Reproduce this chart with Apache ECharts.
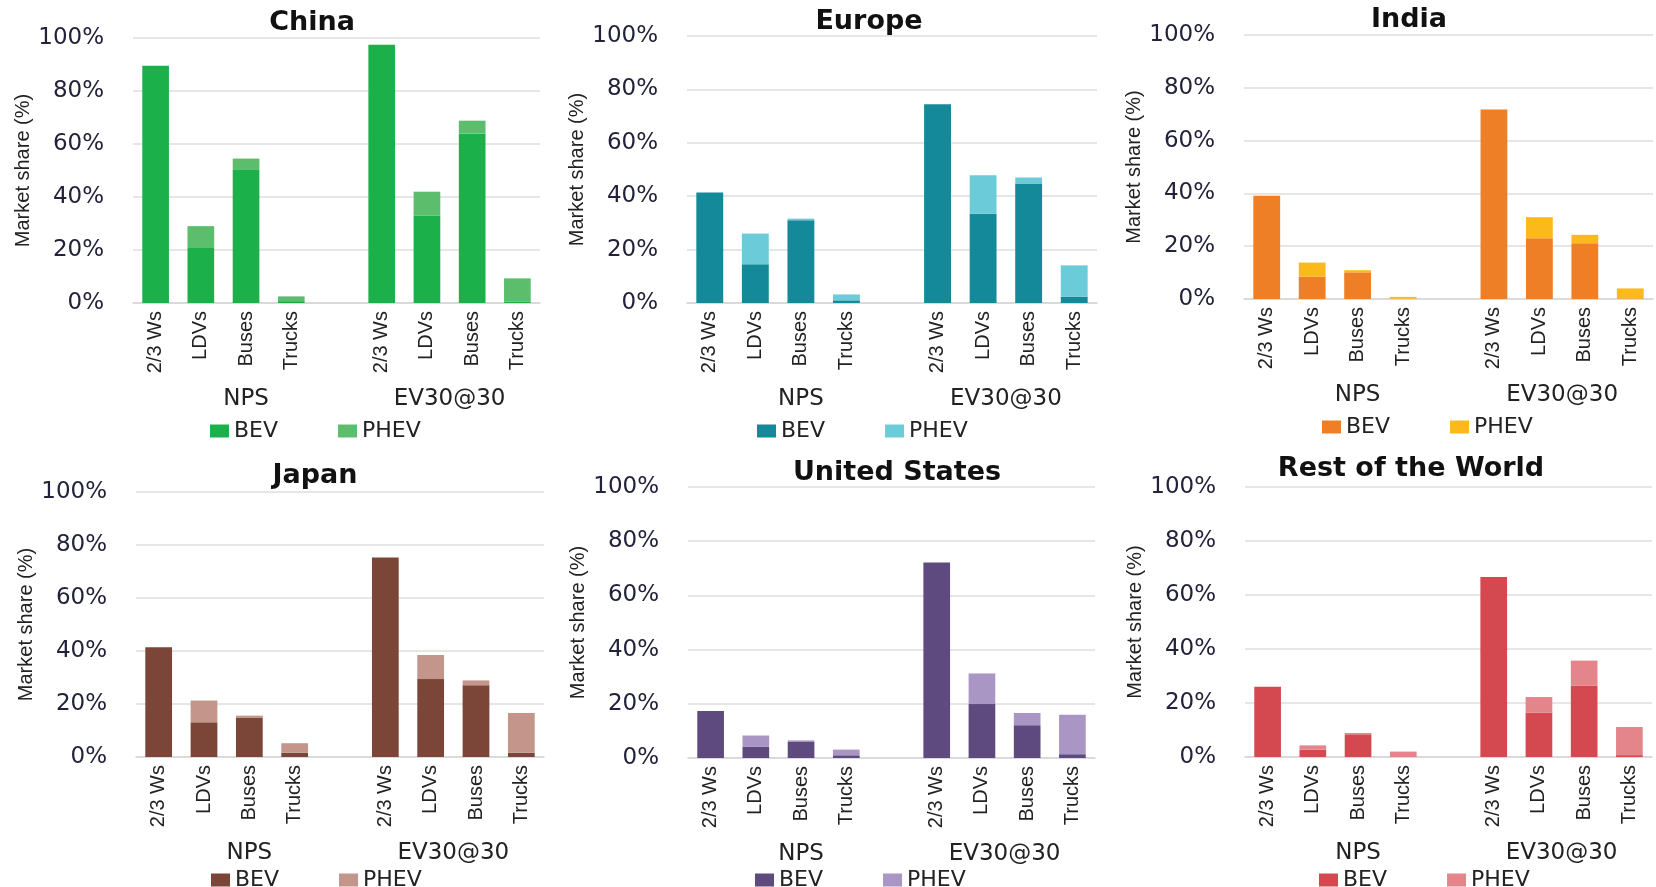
<!DOCTYPE html>
<html><head><meta charset="utf-8">
<script src="https://cdn.jsdelivr.net/npm/echarts@6/dist/echarts.min.js"></script>
<style>html,body{margin:0;padding:0;background:#fff}#c{width:1656px;height:887px}</style>
</head><body><div id="c"></div>
<script>
// ---- data ----
const vehicleTypes = ['2/3 Ws', 'LDVs', 'Buses', 'Trucks'];
const scenarios = ['NPS', 'EV30@30'];
const powertrains = ['BEV', 'PHEV'];
const regionNames = ['China', 'Europe', 'India', 'Japan', 'United States', 'Rest of the World'];
const yTicks = [0, 20, 40, 60, 80, 100];

// values: NPS (4 vehicle types) then EV30@30 (4 vehicle types), market share %
const chinaBEV   = [89.5, 21, 50.5, 0.7, 97.5, 33, 64, 0.6];
const chinaPHEV  = [0, 8, 4, 1.8, 0, 9, 4.8, 8.7];
const europeBEV  = [41.4, 14.5, 31, 1, 74.4, 33.4, 44.8, 2.3];
const europePHEV = [0, 11.5, 0.6, 2.2, 0, 14.4, 2.2, 11.8];
const indiaBEV   = [39.1, 8.5, 10.1, 0.1, 71.8, 23, 21.1, 0.2];
const indiaPHEV  = [0, 5.3, 0.8, 0.7, 0, 8, 3.2, 3.8];
const japanBEV   = [41.4, 13.1, 14.9, 1.6, 75.3, 29.4, 27.1, 1.6];
const japanPHEV  = [0, 8.2, 0.7, 3.6, 0, 9.1, 1.8, 15];
const usBEV      = [17.3, 4.1, 5.9, 1, 72.1, 19.9, 12.1, 1.4];
const usPHEV     = [0, 4.2, 0.6, 2.1, 0, 11.3, 4.5, 14.6];
const rowBEV     = [26, 2.7, 8.4, 0.2, 66.7, 16.5, 26.5, 0.7];
const rowPHEV    = [0, 1.6, 0.5, 1.8, 0, 5.7, 9.2, 10.4];

const bevData = [chinaBEV, europeBEV, indiaBEV, japanBEV, usBEV, rowBEV];
const phevData = [chinaPHEV, europePHEV, indiaPHEV, japanPHEV, usPHEV, rowPHEV];

// ---- layout / style ----
const colors = [
  ['#1cb04b', '#5cbe6d'],
  ['#13899a', '#6ccbd9'],
  ['#ee7f27', '#fcb91c'],
  ['#7b4637', '#c4958b'],
  ['#5e4a7f', '#a996c4'],
  ['#d4494f', '#e3858a']
];
const layouts = [
  {left: 133, width: 407, top: 38, height: 265, tx: 312, ty: 9, lx: 210, lg: 117},
  {left: 687, width: 410, top: 36, height: 267, tx: 869, ty: 8, lx: 757, lg: 117},
  {left: 1244, width: 410, top: 35, height: 264, tx: 1409, ty: 6, lx: 1322, lg: 117},
  {left: 136, width: 408, top: 492, height: 265, tx: 315, ty: 462, lx: 211, lg: 112},
  {left: 688, width: 407, top: 487, height: 271, tx: 897, ty: 459, lx: 755, lg: 111},
  {left: 1245, width: 407, top: 487, height: 270, tx: 1411, ty: 455, lx: 1319, lg: 112}
];

const categories = [...vehicleTypes, '', ...vehicleTypes];
// group label axis: 19 positions (boundaryGap false) -> NPS centred over first 5 slots, EV30@30 over last 4
const groupAxis = new Array(19).fill('');
groupAxis[5] = scenarios[0];
groupAxis[14] = scenarios[1];

function withGap(arr) { return [...arr.slice(0, 4), '-', ...arr.slice(4)]; }

const option = {
  animation: false,
  backgroundColor: '#fff',
  title: [], grid: [], xAxis: [], yAxis: [], legend: [], series: []
};

regionNames.forEach((name, i) => {
  const L = layouts[i];
  const axisBottom = L.top + L.height;
  option.title.push({
    text: name, left: L.tx, top: L.ty, textAlign: 'center', padding: 0,
    textStyle: {fontFamily: 'DejaVu Sans', fontWeight: 'bold', fontSize: 27, color: '#111'}
  });
  option.grid.push({left: L.left, width: L.width, top: L.top, height: L.height, containLabel: false});
  option.xAxis.push({
    type: 'category', gridIndex: i, data: categories,
    axisLine: {lineStyle: {color: '#d6d6d6', width: 1.5}},
    axisTick: {show: false},
    axisLabel: {rotate: 90, interval: 0, margin: 8, color: '#222', fontFamily: 'Liberation Sans', fontSize: 20}
  });
  option.xAxis.push({
    type: 'category', gridIndex: i, data: groupAxis, boundaryGap: false, position: 'bottom',
    axisLine: {show: false}, axisTick: {show: false}, splitLine: {show: false},
    axisLabel: {interval: 0, margin: 85, color: '#222', fontFamily: 'DejaVu Sans', fontSize: 23}
  });
  option.yAxis.push({
    type: 'value', gridIndex: i, min: 0, max: 100, interval: 20,
    name: 'Market share (%)', nameLocation: 'middle', nameGap: 100,
    nameTextStyle: {fontFamily: 'Liberation Sans', fontSize: 20, color: '#222'},
    axisLine: {show: false}, axisTick: {show: false},
    splitLine: {lineStyle: {color: '#dedede', width: 1.5}},
    axisLabel: {formatter: v => yTicks.includes(v) ? v + '%' : '', margin: 29,
      color: '#22223a', fontFamily: 'DejaVu Sans', fontSize: 23}
  });
  const names = powertrains.map(p => name + '|' + p);
  option.legend.push({
    data: names, left: L.lx, top: axisBottom + L.lg, padding: 0, itemGap: 60,
    itemWidth: 19, itemHeight: 13, icon: 'rect',
    formatter: n => n.split('|')[1],
    textStyle: {fontFamily: 'DejaVu Sans', fontSize: 22, color: '#222'}
  });
  [bevData[i], phevData[i]].forEach((vals, k) => {
    option.series.push({
      type: 'bar', name: names[k], stack: 'stack' + i,
      xAxisIndex: i * 2, yAxisIndex: i, barWidth: '59%',
      itemStyle: {color: colors[i][k]},
      data: withGap(vals)
    });
  });
});

const chart = echarts.init(document.getElementById('c'), null, {renderer: 'canvas'});
chart.setOption(option);
</script>
</body></html>
